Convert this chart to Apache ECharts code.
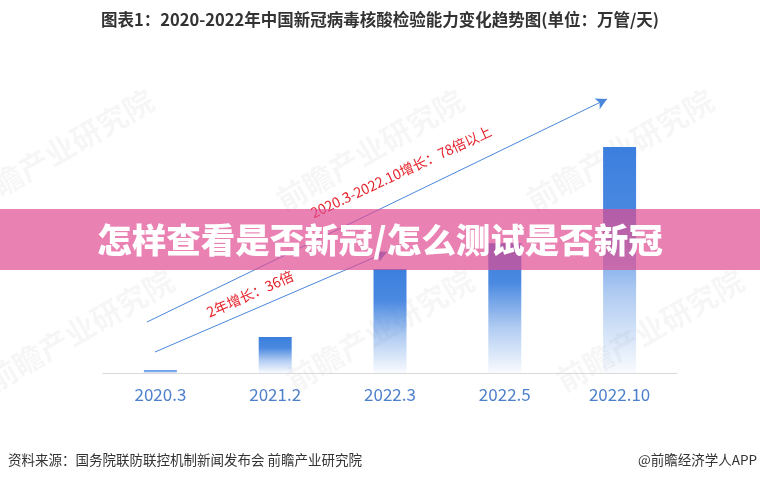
<!DOCTYPE html>
<html><head><meta charset="utf-8">
<script src="https://cdn.jsdelivr.net/npm/echarts@6/dist/echarts.min.js"></script>
<style>html,body{margin:0;padding:0;background:#fff}#c{width:760px;height:480px}</style>
</head><body><div id="c"></div>
<script>
const categories = ['2020.3', '2021.2', '2022.3', '2022.5', '2022.10'];
const capacity = [126, 1580, 4570, 5700, 9930]; // 万管/天 (estimated)
const titleText = '图表1：2020-2022年中国新冠病毒核酸检验能力变化趋势图(单位：万管/天)';
const bannerText = '怎样查看是否新冠/怎么测试是否新冠';
const noteLong = '2020.3-2022.10增长：78倍以上';
const noteShort = '2年增长：36倍';
const sourceText = '资料来源：国务院联防联控机制新闻发布会 前瞻产业研究院';
const brandText = '@前瞻经济学人APP';

const FONT = '"Noto Sans CJK SC","Noto Sans",sans-serif';
const chart = echarts.init(document.getElementById('c'), null, {renderer: 'canvas'});

const wm = [];
[[60,150],[370,150],[620,150],[80,330],[380,330],[650,330]].forEach(p => {
  wm.push({type:'text', x:p[0], y:p[1], rotation: 30*Math.PI/180, z:0,
    style:{text:'前瞻产业研究院', font:'bold 30px ' + FONT, fill:'rgba(0,0,0,0.035)', align:'center', verticalAlign:'middle'}});
});

chart.setOption({
  animation: false,
  backgroundColor: '#fff',
  grid: {left: 103, right: 83, top: 100, bottom: 107},
  xAxis: {
    type: 'category', data: categories,
    axisLine: {lineStyle: {color: '#D9D9D9', width: 1}},
    axisTick: {show: false},
    axisLabel: {color: '#4E80CC', fontSize: 17, margin: 13, fontFamily: FONT}
  },
  yAxis: {type: 'value', min: 0, max: 12000, show: false, splitLine: {show: false}},
  series: [{
    type: 'bar', data: capacity, barWidth: 33,
    itemStyle: {color: new echarts.graphic.LinearGradient(0,0,0,1,[
      {offset:0, color:'rgba(59,127,222,1)'},
      {offset:0.3, color:'rgba(59,127,222,0.92)'},
      {offset:0.65, color:'rgba(59,127,222,0.4)'},
      {offset:1, color:'rgba(59,127,222,0.03)'}])},
    markLine: {
      silent: true, symbol: ['none','arrow'], symbolSize: [9, 11],
      lineStyle: {color: '#4A87DA', width: 1, type: 'solid'},
      label: {show: false},
      data: [
        [{x:147, y:322}, {x:607, y:99}],
        [{x:155, y:352}, {x:387, y:252}]
      ]
    }
  }],
  graphic: wm.concat([
    {type:'text', left:'center', top: 11, z: 10,
     style:{text:titleText, font:'bold 16.5px ' + FONT, fill:'#333'}},
    {type:'text', x:401, y:172, rotation: 25*Math.PI/180, z: 10,
     style:{text:noteLong, font:'14px ' + FONT, fill:'#E5222B', align:'center', verticalAlign:'middle'}},
    {type:'text', x:250, y:294, rotation: 24*Math.PI/180, z: 10,
     style:{text:noteShort, font:'14px ' + FONT, fill:'#E5222B', align:'center', verticalAlign:'middle'}},
    {type:'rect', shape:{x:0, y:209, width:760, height:61}, z: 20,
     style:{fill:'rgba(224,76,145,0.7)'}},
    {type:'text', x:380, y:240, z: 21,
     style:{text:bannerText, font:'900 34.5px ' + FONT, fill:'#fff', align:'center', verticalAlign:'middle',
            shadowColor:'rgba(0,0,0,0.25)', shadowBlur:2, shadowOffsetX:1, shadowOffsetY:1}},
    {type:'text', x:8, y:460, z: 10,
     style:{text:sourceText, font:'13.5px ' + FONT, fill:'#333', verticalAlign:'middle'}},
    {type:'text', x:757, y:460, z: 10,
     style:{text:brandText, font:'13.5px ' + FONT, fill:'#333', align:'right', verticalAlign:'middle'}}
  ])
});
</script></body></html>
